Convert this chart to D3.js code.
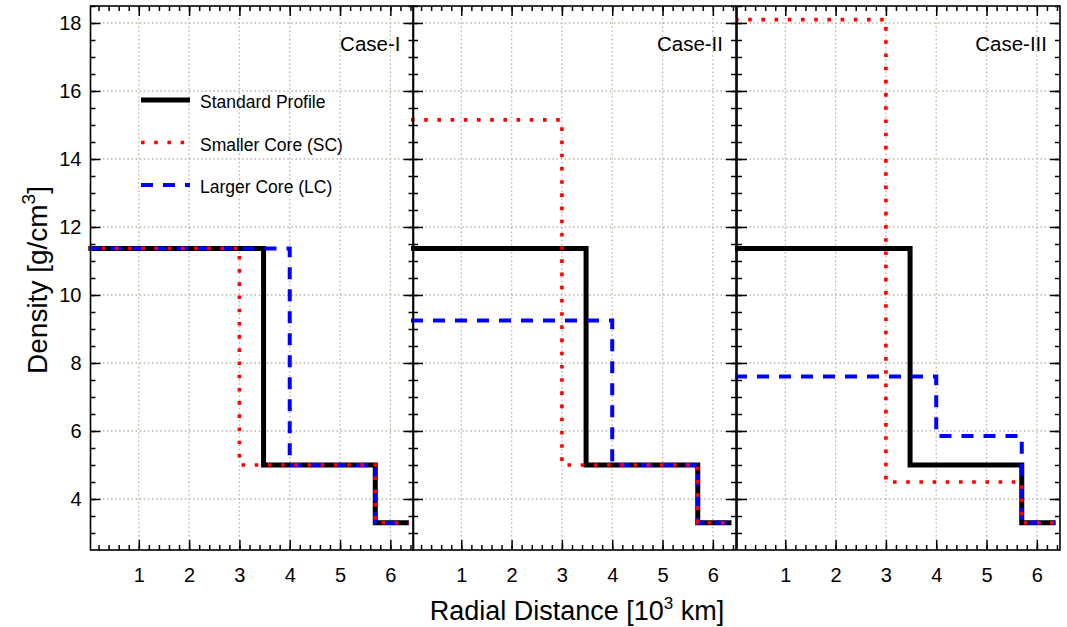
<!DOCTYPE html>
<html>
<head>
<meta charset="utf-8">
<script src="https://cdn.jsdelivr.net/npm/d3@7"></script>
<style>
  body { margin: 0; background: #fff; }
  text { font-family: "Liberation Sans", Arial, sans-serif; }
</style>
</head>
<body>
<div id="container"></div>
<script>
// data
let caseNames = ["Case-I", "Case-II", "Case-III"];

let stdRadius = [0, 3.48, 5.70, 6.37];
let stdDensity = [11.37, 5.0, 3.3];

let scRadius = [[0, 3.0, 5.70, 6.37], [0, 3.0, 5.70, 6.37], [0, 3.0, 5.70, 6.37]];
let scDensity = [[11.37, 5.0, 3.3], [15.15, 5.0, 3.3], [18.1, 4.5, 3.3]];

let lcRadius = [[0, 4.0, 5.70, 6.37], [0, 4.0, 5.70, 6.37], [0, 4.0, 5.70, 6.37]];
let lcDensity = [[11.37, 5.0, 3.3], [9.25, 5.0, 3.3], [7.6, 5.85, 3.3]];

let xTicks = [1, 2, 3, 4, 5, 6];
let yTicks = [4, 6, 8, 10, 12, 14, 16, 18];
let legendNames = ["Standard Profile", "Smaller Core (SC)", "Larger Core (LC)"];

let w = 1067;
let h = 627;
let plotTop = 6, plotBottom = 550;
let panelLefts = [90.5, 413, 737];
let panelW = 323;

let viz = d3.select("#container")
  .append("svg")
  .attr("width", w)
  .attr("height", h);

let yScale = d3.scaleLinear().domain([2.5, 18.5]).range([plotBottom, plotTop]);

function toPoints(radius, density) {
  let pts = density.map(function (d, i) { return [radius[i], d]; });
  pts.push([radius[radius.length - 1], density[density.length - 1]]);
  return pts;
}

let gridColor = "#bcb2a6";
let yMinor = d3.range(3, 18.51, 0.5);
let xMinor = d3.range(0.2, 6.41, 0.2);

caseNames.forEach(function (name, p) {
  let x0 = panelLefts[p];
  let xScale = d3.scaleLinear().domain([0.04, 6.46]).range([x0, x0 + panelW]);
  let g = viz.append("g").attr("class", "panel");

  // grid
  g.selectAll(".vgrid").data(xTicks).enter().append("line")
    .attr("class", "vgrid")
    .attr("x1", d => xScale(d)).attr("x2", d => xScale(d))
    .attr("y1", plotTop).attr("y2", plotBottom)
    .attr("stroke", gridColor).attr("stroke-width", 1.3)
    .attr("stroke-dasharray", "1.5,2.6");
  g.selectAll(".hgrid").data(yTicks).enter().append("line")
    .attr("class", "hgrid")
    .attr("x1", x0).attr("x2", x0 + panelW)
    .attr("y1", d => yScale(d)).attr("y2", d => yScale(d))
    .attr("stroke", gridColor).attr("stroke-width", 1.3)
    .attr("stroke-dasharray", "1.5,2.6");

  // lines
  let line = d3.line()
    .x(d => xScale(d[0]))
    .y(d => yScale(d[1]))
    .curve(d3.curveStepAfter);

  g.append("path")
    .attr("d", line(toPoints(stdRadius, stdDensity)))
    .attr("fill", "none").attr("stroke", "#000").attr("stroke-width", 5);
  g.append("path")
    .attr("d", line(toPoints(lcRadius[p], lcDensity[p])))
    .attr("fill", "none").attr("stroke", "#0000ff").attr("stroke-width", 4)
    .attr("stroke-dasharray", "12,10");
  g.append("path")
    .attr("d", line(toPoints(scRadius[p], scDensity[p])))
    .attr("fill", "none").attr("stroke", "#ff0000").attr("stroke-width", 3.6)
    .attr("stroke-dasharray", "3.6,9.6");

  // axes, ticks pointing inward
  g.append("g").attr("transform", "translate(0," + plotBottom + ")")
    .call(d3.axisBottom(xScale).tickValues(xTicks).tickSize(-10).tickPadding(18)
      .tickFormat(d3.format("d")));
  g.append("g").attr("transform", "translate(0," + plotBottom + ")")
    .call(d3.axisBottom(xScale).tickValues(xMinor).tickSize(-5).tickFormat(""));
  g.append("g").attr("transform", "translate(0," + plotTop + ")")
    .call(d3.axisTop(xScale).tickValues(xTicks).tickSize(-10).tickFormat(""));
  g.append("g").attr("transform", "translate(0," + plotTop + ")")
    .call(d3.axisTop(xScale).tickValues(xMinor).tickSize(-5).tickFormat(""));

  g.append("g").attr("transform", "translate(" + x0 + ",0)")
    .call(d3.axisLeft(yScale).tickValues(yTicks).tickSize(-10).tickPadding(9)
      .tickFormat(p == 0 ? d3.format("d") : ""));
  g.append("g").attr("transform", "translate(" + x0 + ",0)")
    .call(d3.axisLeft(yScale).tickValues(yMinor).tickSize(-5).tickFormat(""));
  g.append("g").attr("transform", "translate(" + (x0 + panelW) + ",0)")
    .call(d3.axisRight(yScale).tickValues(yTicks).tickSize(-10).tickFormat(""));
  g.append("g").attr("transform", "translate(" + (x0 + panelW) + ",0)")
    .call(d3.axisRight(yScale).tickValues(yMinor).tickSize(-5).tickFormat(""));

  g.selectAll(".domain").remove();
  g.selectAll(".tick line").attr("stroke", "#000").attr("stroke-width", 1.5);
  g.selectAll(".tick text").attr("font-size", 20).attr("fill", "#000")
    .style("font-family", "'Liberation Sans', Arial, sans-serif");

  g.append("rect")
    .attr("x", x0).attr("y", plotTop).attr("width", panelW).attr("height", plotBottom - plotTop)
    .attr("fill", "none").attr("stroke", "#000").attr("stroke-width", 1.6);

  g.append("text")
    .attr("x", x0 + panelW - 13).attr("y", 51)
    .attr("text-anchor", "end").attr("font-size", 20.5)
    .text(name);
});

// legend
let legend = viz.append("g").attr("transform", "translate(141,100)");
let legendStyles = [
  { color: "#000", width: 5, dash: null },
  { color: "#ff0000", width: 3.6, dash: "3.6,9.6" },
  { color: "#0000ff", width: 4, dash: "12,10" }
];
legendNames.forEach(function (n, i) {
  let row = legend.append("g").attr("transform", "translate(0," + (i * 42.5) + ")");
  row.append("line")
    .attr("x1", 0).attr("x2", 49).attr("y1", 0).attr("y2", 0)
    .attr("stroke", legendStyles[i].color)
    .attr("stroke-width", legendStyles[i].width)
    .attr("stroke-dasharray", legendStyles[i].dash);
  row.append("text")
    .attr("x", 59).attr("y", 8)
    .attr("font-size", 17.5)
    .text(n);
});

// axis titles
let yTitle = viz.append("text")
  .attr("transform", "translate(47,280) rotate(-90)")
  .attr("text-anchor", "middle")
  .attr("font-size", 28);
yTitle.append("tspan").text("Density [g/cm");
yTitle.append("tspan").attr("font-size", 19).attr("dy", -12).text("3");
yTitle.append("tspan").attr("dy", 12).text("]");

let xTitle = viz.append("text")
  .attr("x", 577).attr("y", 620)
  .attr("text-anchor", "middle")
  .attr("font-size", 27);
xTitle.append("tspan").text("Radial Distance [10");
xTitle.append("tspan").attr("font-size", 17).attr("dy", -11).text("3");
xTitle.append("tspan").attr("dy", 11).text(" km]");
</script>
</body>
</html>
